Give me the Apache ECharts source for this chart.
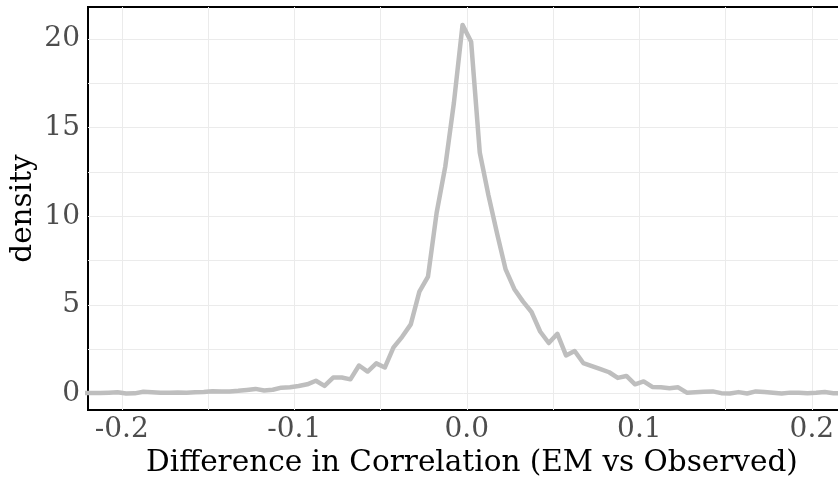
<!DOCTYPE html>
<html>
<head>
<meta charset="utf-8">
<script src="https://cdn.jsdelivr.net/npm/echarts@6/dist/echarts.min.js"></script>
<style>html,body{margin:0;padding:0;background:#fff;}#c{width:838px;height:478px;}</style>
</head>
<body>
<div id="c"></div>
<script>
var xValues = [-0.2225,-0.2175,-0.2125,-0.2075,-0.2025,-0.1975,-0.1925,-0.1875,-0.1825,-0.1775,
  -0.1725,-0.1675,-0.1625,-0.1575,-0.1525,-0.1475,-0.1425,-0.1375,-0.1325,-0.1275,
  -0.1225,-0.1175,-0.1125,-0.1075,-0.1025,-0.0975,-0.0925,-0.0875,-0.0825,-0.0775,
  -0.0725,-0.0675,-0.0625,-0.0575,-0.0525,-0.0475,-0.0425,-0.0375,-0.0325,-0.0275,
  -0.0225,-0.0175,-0.0125,-0.0075,-0.0025,0.0025,0.0075,0.0125,0.0175,0.0225,
  0.0275,0.0325,0.0375,0.0425,0.0475,0.0525,0.0575,0.0625,0.0675,0.0725,
  0.0775,0.0825,0.0875,0.0925,0.0975,0.1025,0.1075,0.1125,0.1175,0.1225,
  0.1275,0.1325,0.1375,0.1425,0.1475,0.1525,0.1575,0.1625,0.1675,0.1725,
  0.1775,0.1825,0.1875,0.1925,0.1975,0.2025,0.2075,0.2125,0.2175];
var densityValues = [0.03,0.03,0.03,0.05,0.07,0.00,0.01,0.10,0.07,0.05,
  0.04,0.06,0.05,0.07,0.08,0.13,0.12,0.12,0.15,0.20,
  0.26,0.17,0.21,0.33,0.35,0.42,0.52,0.72,0.43,0.90,
  0.90,0.80,1.58,1.24,1.70,1.47,2.60,3.20,3.90,5.75,
  6.60,10.20,12.80,16.40,20.80,19.85,13.60,11.20,9.05,7.00,
  5.90,5.20,4.60,3.50,2.85,3.37,2.15,2.40,1.72,1.55,
  1.38,1.20,0.88,0.99,0.52,0.68,0.37,0.35,0.30,0.35,
  0.05,0.07,0.10,0.12,0.02,0.00,0.08,0.00,0.12,0.08,
  0.04,0.00,0.05,0.05,0.02,0.04,0.08,0.02,0.00];
var xTickLabels = [-0.2,-0.1,0.0,0.1,0.2];
var xGridValues = [-0.2,-0.15,-0.1,-0.05,0,0.05,0.1,0.15,0.2];
var yTickLabels = [0,5,10,15,20];
var yGridValues = [0,2.5,5,7.5,10,12.5,15,17.5,20];
var xTitle = 'Difference in Correlation (EM vs Observed)';
var yTitle = 'density';

var data = xValues.map(function (x, i) { return [x, densityValues[i]]; });
var font = 'DejaVu Serif';
var chart = echarts.init(document.getElementById('c'), null, {renderer: 'canvas'});
chart.setOption({
  animation: false,
  backgroundColor: '#ffffff',
  grid: {left: 88, top: 7, right: -18, bottom: 68, containLabel: false, outerBoundsMode: 'none',
    show: true, borderColor: '#000', borderWidth: 2, backgroundColor: '#fff'},
  xAxis: {
    type: 'value', min: -0.2196, max: 0.2256,
    name: xTitle, nameLocation: 'middle', nameGap: 38, nameMoveOverlap: false,
    nameTextStyle: {fontFamily: font, fontSize: 29.5, color: '#000'},
    axisLine: {show: false},
    axisTick: {show: false, customValues: xGridValues},
    axisLabel: {customValues: xTickLabels, fontFamily: font, fontSize: 28, color: '#4d4d4d', margin: 6,
      formatter: function (v) { return v.toFixed(1); }},
    splitLine: {show: true, lineStyle: {color: '#ebebeb', width: 1}}
  },
  yAxis: {
    type: 'value', min: -0.93, max: 21.81,
    name: yTitle, nameLocation: 'middle', nameGap: 50, nameRotate: 90, nameMoveOverlap: false,
    nameTextStyle: {fontFamily: font, fontSize: 29.5, color: '#000'},
    axisLine: {show: false},
    axisTick: {show: false, customValues: yGridValues},
    axisLabel: {customValues: yTickLabels, fontFamily: font, fontSize: 28, color: '#4d4d4d', margin: 8},
    splitLine: {show: true, lineStyle: {color: '#ebebeb', width: 1}}
  },
  series: [{
    type: 'line', data: data, showSymbol: false, clip: true,
    lineStyle: {color: '#bebebe', width: 4.5, join: 'round'},
    z: 3
  }]
});
</script>
</body>
</html>
